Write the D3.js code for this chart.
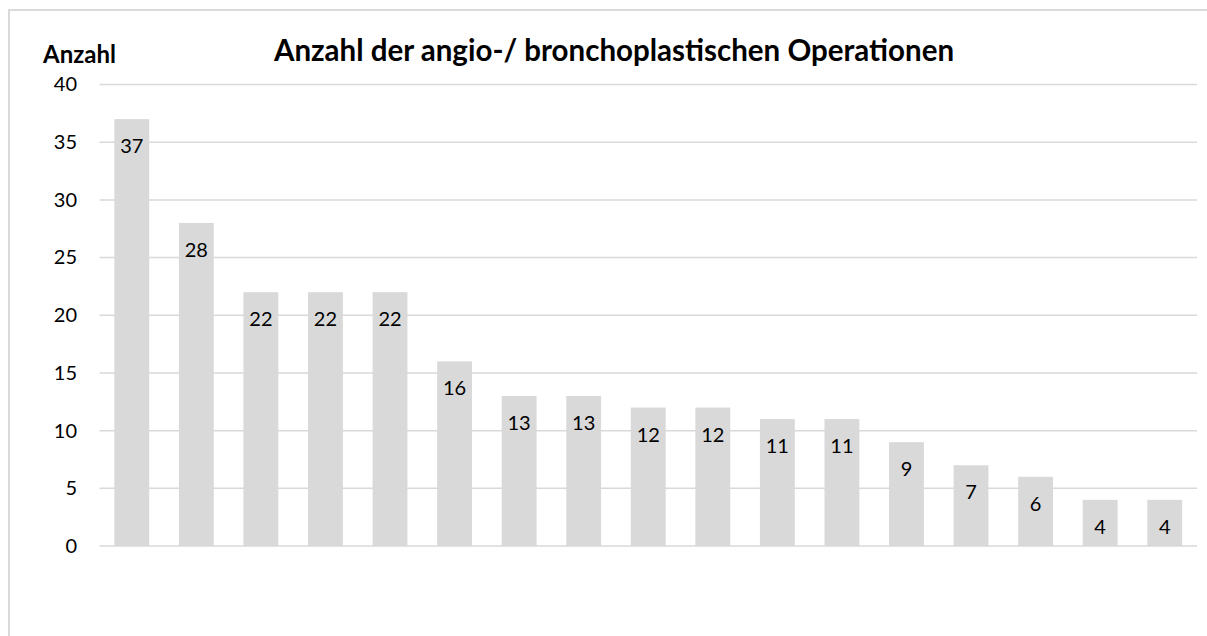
<!DOCTYPE html>
<html>
<head>
<meta charset="utf-8">
<script src="https://cdn.jsdelivr.net/npm/d3@7"></script>
<style>
  body { margin: 0; background: #fff; }
  text { font-family: Lato, "Open Sans", sans-serif; fill: #000; }
</style>
</head>
<body>
<div id="chart"></div>
<script>
// data
var categories = ["1","2","3","4","5","6","7","8","9","10","11","12","13","14","15","16","17"];
var values = [37, 28, 22, 22, 22, 16, 13, 13, 12, 12, 11, 11, 9, 7, 6, 4, 4];
var yTicks = [0, 5, 10, 15, 20, 25, 30, 35, 40];
var titleText = "Anzahl der angio-/ bronchoplastischen Operationen";
var yLabel = "Anzahl";

var width = 1207;
var height = 636;

var svg = d3.select("#chart").append("svg").attr("width", width).attr("height", height);

// outer frame (only top and left edges are visible in the picture)
svg.append("rect").attr("x", 9).attr("y", 10).attr("width", 1220).attr("height", 660)
  .attr("fill", "none").attr("stroke", "#d9d9d9").attr("stroke-width", 2);

var x = d3.scaleBand().domain(categories).range([99.5, 1197]).paddingInner(0.46).paddingOuter(0.23);
var y = d3.scaleLinear().domain([0, 40]).range([546, 84.5]);

// gridlines
svg.append("g").selectAll("line")
  .data(yTicks)
  .enter()
  .append("line")
  .attr("x1", 99.5).attr("x2", 1197)
  .attr("y1", function(d) { return y(d); })
  .attr("y2", function(d) { return y(d); })
  .attr("stroke", "#d9d9d9").attr("stroke-width", 1.5);

// y axis labels
var yAxis = svg.append("g").attr("transform", "translate(77,0)")
  .call(d3.axisLeft(y).tickValues(yTicks).tickSize(0).tickPadding(0));
yAxis.select(".domain").remove();
yAxis.selectAll("text").style("font-size", "20px").style("font-family", "Lato, sans-serif").attr("fill", "#000");

// bars
svg.append("g").selectAll("rect")
  .data(values)
  .enter()
  .append("rect")
  .attr("x", function(d, i) { return x(categories[i]); })
  .attr("y", function(d) { return y(d); })
  .attr("width", x.bandwidth())
  .attr("height", function(d) { return y(0) - y(d); })
  .attr("fill", "#d9d9d9");

// value labels
svg.append("g").selectAll("text")
  .data(values)
  .enter()
  .append("text")
  .attr("x", function(d, i) { return x(categories[i]) + x.bandwidth() / 2; })
  .attr("y", function(d) { return y(d) + 34; })
  .attr("text-anchor", "middle")
  .style("font-size", "20px")
  .text(function(d) { return d; });

// title
svg.append("text").attr("x", 614).attr("y", 61).attr("text-anchor", "middle")
  .style("font-size", "29.5px").style("font-weight", "bold").text(titleText);

svg.append("text").attr("x", 43).attr("y", 62.5)
  .style("font-size", "24px").style("font-weight", "bold").text(yLabel);
</script>
</body>
</html>
